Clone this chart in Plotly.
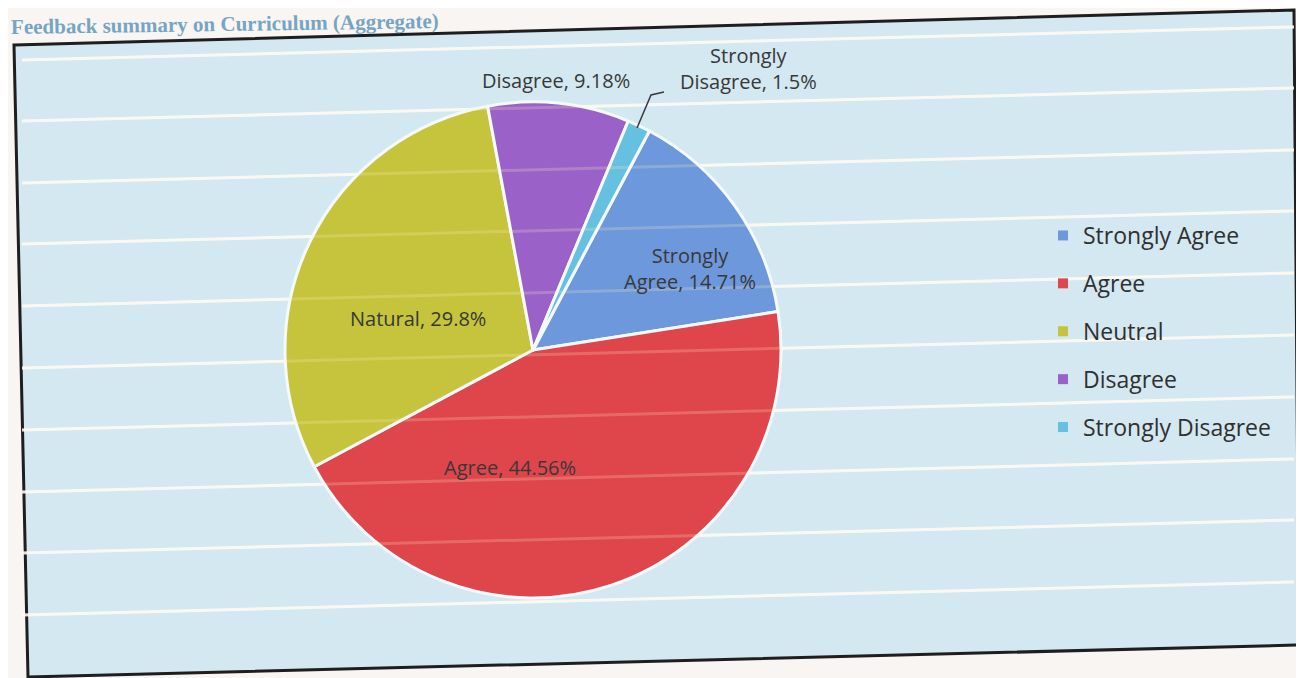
import plotly.graph_objects as go

# ---- data ----
categories = ["Strongly Agree", "Agree", "Neutral", "Disagree", "Strongly Disagree"]
values = [14.71, 44.56, 29.8, 9.18, 1.5]
slice_labels = ["Strongly<br>Agree", "Agree", "Natural", "Disagree", "Strongly<br>Disagree"]
colors = ["#6d98dc", "#df464b", "#c6c43c", "#9a62c8", "#66c0e0"]
title_text = "Feedback summary on Curriculum (Aggregate)"

# page body has an 8px margin; figure fills the rest of the window
OFF = 8
W, H = 1304 - OFF, 678 - OFF


def px(x):
    return (x - OFF) / W


def py(y):
    return 1 - (y - OFF) / H


text_labels = [f"{l}, {v:g}%" for l, v in zip(slice_labels, values)]
# label placement (window pixel centres) -- layout only
label_pos = [(690, 268), (510, 467), (418, 318), (556, 80), (748, 68)]

fig = go.Figure()

fig.add_trace(go.Pie(
    labels=categories,
    values=values,
    textinfo="none",
    sort=False,
    direction="clockwise",
    rotation=28,
    marker=dict(colors=colors, line=dict(color="#f4fafc", width=3)),
    domain=dict(x=[px(285), px(781)], y=[py(598), py(102)]),
    showlegend=False,
    hoverinfo="label+percent",
))

# legend entries (same categories / colours)
for i, (cat, col) in enumerate(zip(categories, colors)):
    fig.add_trace(go.Scatter(
        x=[None], y=[None], mode="markers", name=cat,
        marker=dict(symbol="square", size=10, color=col),
        legendgroup=f"g{i}", showlegend=True,
    ))

shapes = []
# frame (slightly rotated photo)
shapes.append(dict(
    type="path", xref="paper", yref="paper", layer="below",
    path=(f"M {px(14)} {py(45)} L {px(1294)} {py(10)} "
          f"L {px(1299)} {py(645)} L {px(28)} {py(677)} Z"),
    fillcolor="#d3e8f1", line=dict(color="#1e1e1e", width=3),
))
# ruled paper lines showing through
rule_y = [60, 121, 183, 244, 306, 368, 430, 492, 553, 615]
for yl in rule_y:
    shapes.append(dict(
        type="line", xref="paper", yref="paper", layer="below",
        x0=px(22), y0=py(yl), x1=px(1294), y1=py(yl - 33),
        line=dict(color="rgba(255,255,255,0.85)", width=3),
    ))
    shapes.append(dict(
        type="line", xref="paper", yref="paper", layer="above",
        x0=px(22), y0=py(yl), x1=px(1294), y1=py(yl - 33),
        line=dict(color="rgba(255,240,200,0.22)", width=3),
    ))
# leader line for the small slice
shapes.append(dict(
    type="path", xref="paper", yref="paper", layer="above",
    path=f"M {px(637)} {py(128)} L {px(651)} {py(95)} L {px(664)} {py(92)}",
    line=dict(color="#3a3a3a", width=1.5),
))

annotations = [dict(
    text=f"<b>{title_text}</b>", xref="paper", yref="paper",
    x=px(9), y=py(24), xanchor="left", yanchor="middle",
    showarrow=False, textangle=-0.8,
    font=dict(family="Liberation Serif", size=21, color="#76a5c4"),
)]
for t, (lx, ly) in zip(text_labels, label_pos):
    annotations.append(dict(
        text=t, xref="paper", yref="paper", x=px(lx), y=py(ly),
        xanchor="center", yanchor="middle", showarrow=False,
        font=dict(family="Open Sans", size=20, color="#383838"),
    ))

fig.update_layout(
    width=W, height=H,
    margin=dict(l=0, r=0, t=0, b=0),
    paper_bgcolor="#f8f5f3",
    plot_bgcolor="rgba(0,0,0,0)",
    xaxis=dict(visible=False),
    yaxis=dict(visible=False),
    shapes=shapes,
    legend=dict(
        x=px(1043), y=py(214), xanchor="left", yanchor="top",
        font=dict(family="Open Sans", size=23, color="#303030"),
        tracegroupgap=15, itemwidth=30,
        bgcolor="rgba(0,0,0,0)",
    ),
    annotations=annotations,
)

fig.write_html("out.html")
